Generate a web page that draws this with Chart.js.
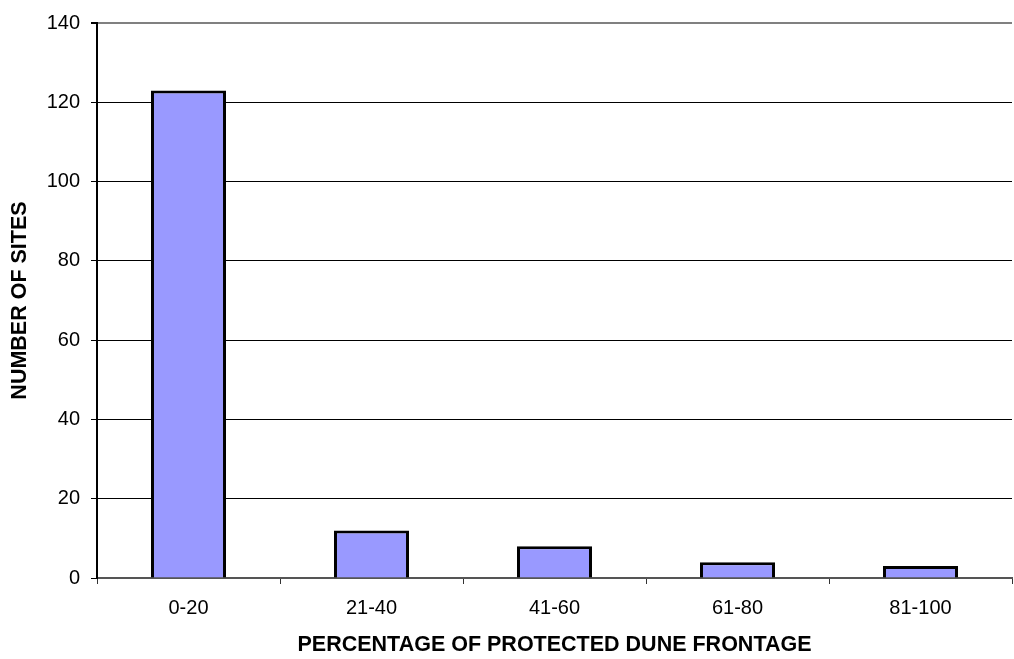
<!DOCTYPE html>
<html>
<head>
<meta charset="UTF-8">
<title>Protected Dune Frontage</title>
<script src="https://cdn.jsdelivr.net/npm/chart.js"></script>
<style>
  html, body { margin: 0; padding: 0; background: #fff; }
  #wrap { width: 1014px; height: 659px; }
</style>
</head>
<body>
<div id="wrap"><canvas id="duneChart"></canvas></div>
<script>
// values
var categories = ['0-20', '21-40', '41-60', '61-80', '81-100'];
var sites = [123, 12, 8, 4, 3];
var yTicks = [0, 20, 40, 60, 80, 100, 120, 140];

var font = 'Arial, "Liberation Sans", sans-serif';

var ctx = document.getElementById('duneChart').getContext('2d');
var duneChart = new Chart(ctx, {
    type: 'bar',
    data: {
        labels: categories,
        datasets: [{
            label: 'Number of sites',
            data: sites,
            backgroundColor: '#9999ff',
            borderColor: '#000000',
            borderWidth: 3,
            categoryPercentage: 1.0,
            barPercentage: 0.41
        }]
    },
    options: {
        responsive: true,
        maintainAspectRatio: false,
        animation: false,
        layout: { padding: { top: 22, right: 2, left: 0, bottom: 0 } },
        plugins: {
            legend: { display: false },
            tooltip: { enabled: false }
        },
        scales: {
            x: {
                afterFit: function (scale) { scale.height = 81; },
                grid: {
                    offset: true,
                    drawOnChartArea: false,
                    tickLength: 6,
                    tickColor: '#333333',
                    lineWidth: 1
                },
                border: { color: '#555555', width: 2 },
                ticks: {
                    color: '#000',
                    padding: 12,
                    font: { family: font, size: 20 }
                },
                title: {
                    display: true,
                    text: 'PERCENTAGE OF PROTECTED DUNE FRONTAGE',
                    color: '#000',
                    padding: { top: 0, bottom: 1 },
                    font: { family: font, size: 21.5, weight: 'bold' }
                }
            },
            y: {
                min: 0,
                max: 140,
                afterFit: function (scale) { scale.width = 97; },
                afterBuildTicks: function (scale) {
                    scale.ticks = yTicks.map(function (v) { return { value: v }; });
                },
                grid: {
                    color: function (c) { return c.tick && c.tick.value === 140 ? '#808080' : '#000000'; },
                    lineWidth: function (c) { return c.tick && c.tick.value === 140 ? 2 : 1; },
                    tickColor: '#000000',
                    tickLength: 6
                },
                border: { color: '#000000', width: 2 },
                ticks: {
                    color: '#000',
                    padding: 11,
                    font: { family: font, size: 20 }
                },
                title: {
                    display: true,
                    text: 'NUMBER OF SITES',
                    color: '#000',
                    padding: { top: 7, bottom: 0 },
                    font: { family: font, size: 21.5, weight: 'bold' }
                }
            }
        }
    }
});
</script>
</body>
</html>
